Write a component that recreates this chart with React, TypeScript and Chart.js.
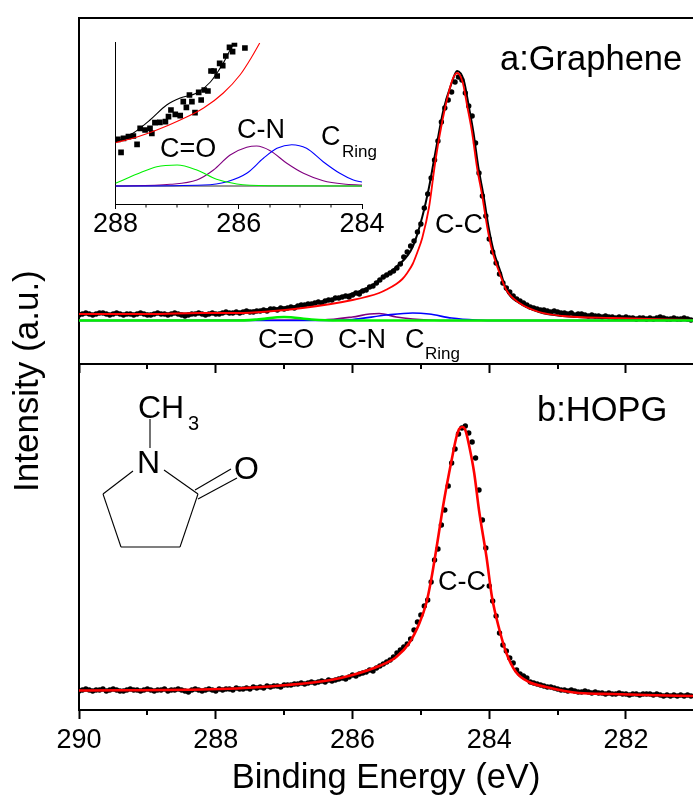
import React, { useEffect, useRef } from "react";
import { Chart, registerables } from "chart.js";

Chart.register(...registerables);

const FONT = '"Liberation Sans", Arial, sans-serif';

// Shared energy grid of the scanned spectra (eV)
const energies = [
  290.0, 289.95, 289.9, 289.85, 289.8, 289.75, 289.7, 289.65, 289.6, 289.55,
  289.5, 289.45, 289.4, 289.35, 289.3, 289.25, 289.2, 289.15, 289.1, 289.05,
  289.0, 288.95, 288.9, 288.85, 288.8, 288.75, 288.7, 288.65, 288.6, 288.55,
  288.5, 288.45, 288.4, 288.35, 288.3, 288.25, 288.2, 288.15, 288.1, 288.05,
  288.0, 287.95, 287.9, 287.85, 287.8, 287.75, 287.7, 287.65, 287.6, 287.55,
  287.5, 287.45, 287.4, 287.35, 287.3, 287.25, 287.2, 287.15, 287.1, 287.05,
  287.0, 286.95, 286.9, 286.85, 286.8, 286.75, 286.7, 286.65, 286.6, 286.55,
  286.5, 286.45, 286.4, 286.35, 286.3, 286.25, 286.2, 286.15, 286.1, 286.05,
  286.0, 285.95, 285.9, 285.85, 285.8, 285.75, 285.7, 285.65, 285.6, 285.55,
  285.5, 285.45, 285.4, 285.35, 285.3, 285.25, 285.2, 285.15, 285.1, 285.05,
  285.0, 284.95, 284.9, 284.85, 284.8, 284.75, 284.7, 284.65, 284.6, 284.55,
  284.5, 284.45, 284.4, 284.35, 284.3, 284.25, 284.2, 284.15, 284.1, 284.05,
  284.0, 283.95, 283.9, 283.85, 283.8, 283.75, 283.7, 283.65, 283.6, 283.55,
  283.5, 283.45, 283.4, 283.35, 283.3, 283.25, 283.2, 283.15, 283.1, 283.05,
  283.0, 282.95, 282.9, 282.85, 282.8, 282.75, 282.7, 282.65, 282.6, 282.55,
  282.5, 282.45, 282.4, 282.35, 282.3, 282.25, 282.2, 282.15, 282.1, 282.05,
  282.0, 281.95, 281.9, 281.85, 281.8, 281.75, 281.7, 281.65, 281.6, 281.55,
  281.5, 281.45, 281.4, 281.35, 281.3, 281.25, 281.2, 281.15, 281.1, 281.05,
];

// Panel a: measured points
const grapheneCounts = [
  49, 50, 51, 50, 49, 50, 51, 51, 50, 49, 50, 51, 50, 49, 50, 50, 49, 50, 51, 50,
  49, 49, 50, 51, 50, 50, 49, 50, 51, 50, 49, 48, 49, 50, 50, 51,
  50, 49, 50, 51, 50, 50, 51, 52, 51, 51, 52,
  51, 52, 53, 52, 52, 53, 53, 54, 53, 55,
  55, 54, 56, 55, 56, 57, 56, 58, 59,
  59, 60, 60, 61, 62, 61, 63, 64, 64, 66,
  66, 67, 68, 67, 69, 71, 70, 73, 74, 77,
  78, 81, 84, 87, 89, 91, 93, 96, 100, 107, 112,
  118, 123, 132, 140, 156, 170, 186, 204, 223, 242, 256, 264, 272, 282, 287, 284,
  271, 258, 248, 221, 191, 168, 148, 125, 112, 101, 90, 81, 76, 72, 68, 65,
  63, 61, 59, 57, 56, 55, 54,
  54, 53, 52, 53, 52, 51, 51, 50, 51, 49,
  50, 50, 49, 48, 49, 48, 48, 47, 48, 47,
  47, 46, 47, 46, 47, 46, 46, 45, 46, 46,
  45, 46, 45, 46, 47, 46, 45, 45, 46, 45,
  45, 46, 45, 44,
];

// Panel a: fitted curves
const grapheneEnvelopeE = [290, 288.23, 287.69, 287.21, 286.73, 286.24, 285.75, 285.61, 285.36, 285.12, 284.98, 284.88, 284.8, 284.67, 284.55, 284.47, 284.37, 284.3, 284.23, 284.16, 284.08, 284.01, 283.94, 283.83, 283.75, 283.56, 283.27, 282.93, 282.2, 281.02];
const grapheneEnvelopeI = [50, 50.5, 52, 55, 59, 66, 77, 84, 97, 117, 147, 177, 207, 254, 281, 293, 283, 258, 231, 197, 167, 137, 114, 91, 74, 61, 52, 48, 46, 44];
const grapheneCCE = [290, 288.96, 288.23, 287.69, 286.73, 286.0, 285.61, 285.5, 285.36, 285.27, 285.2, 285.12, 285.05, 284.98, 284.88, 284.8, 284.73, 284.63, 284.54, 284.47, 284.39, 284.32, 284.25, 284.18, 284.1, 284.03, 283.96, 283.85, 283.75, 283.56, 283.27, 282.93, 282.2, 281.02];
const grapheneCCI = [50, 50, 51, 51, 56, 64, 71, 74.5, 80, 85, 91, 100, 112, 126, 157, 197, 227, 261, 284, 291, 282, 257, 231, 197, 167, 137, 114, 91, 74, 61, 52, 48, 46, 44];
const grapheneCOE = [290, 287.7, 287.4, 287.0, 286.6, 286.2, 281.02];
const grapheneCOI = [43.5, 43.5, 44.5, 47, 44.5, 43.5, 43.5];
const grapheneCNE = [290, 286.44, 286.0, 285.75, 285.61, 285.36, 285.12, 284.9, 284.5, 281.02];
const grapheneCNI = [43.5, 44, 47, 50, 50.5, 47, 45, 44, 43.5, 43.5];
const grapheneRingE = [290, 286.5, 286.0, 285.5, 285.12, 284.88, 284.55, 284.2, 283.8, 281.02];
const grapheneRingI = [43.5, 43.5, 44.5, 49, 51, 50, 46, 44, 43.5, 43.5];

// Panel b: measured points
const hopgCounts = [
  19, 20, 21, 20, 19, 20, 20, 21, 19, 20, 21, 20, 19, 19, 20, 21, 20, 20, 19, 20,
  21, 20, 19, 20, 20, 21, 19, 20, 20, 21, 20, 19, 18, 20, 21, 20, 19, 20, 21, 20, 19, 21,
  20, 21, 21, 20, 22, 21, 21, 22, 21, 23, 22, 23, 22, 24, 23, 24, 24, 23, 25, 25,
  25, 26, 26, 27, 26, 27, 28, 27, 28, 29, 28, 30, 29,
  30, 31, 32, 31, 33, 35, 34, 36, 37, 38, 40, 39, 42, 44,
  46, 48, 50, 53, 57, 60, 63, 66, 71, 80, 88, 95, 104, 110, 128, 150, 161, 185, 200, 224,
  247, 261, 276, 282, 284, 277, 268, 252, 220, 190, 162, 124, 109, 94, 77, 65, 59, 52, 47, 40,
  36, 34, 32, 28, 27, 26, 25, 24,
  23, 23, 22, 21, 20, 20, 19, 20, 19, 18,
  18, 19, 18, 17, 18, 17, 17, 16, 17, 16,
  16, 17, 16, 16, 15, 16, 16, 15, 16, 16,
  16, 15, 16, 15, 14, 15, 14, 15, 14, 15,
  14, 15, 14,
];
const hopgFitE = [290, 287.93, 286.96, 286.32, 286, 285.61, 285.36, 285.17, 285.02, 284.92, 284.85, 284.76, 284.66, 284.55, 284.48, 284.44, 284.39, 284.35, 284.29, 284.22, 284.15, 284.04, 283.96, 283.85, 283.75, 283.61, 283.42, 283.17, 282.69, 282.2, 281.71, 281.02];
const hopgFitI = [19.5, 21, 25, 30, 35, 44, 53, 67, 87, 107, 130, 167, 210, 250, 273, 281, 283, 280, 263, 237, 200, 153, 113, 80, 57, 38, 28, 23, 17, 16, 15, 14];

// Inset: zoom of the panel a shoulder
const insetPointE = [287.96, 287.91, 287.87, 287.79, 287.71, 287.65, 287.6, 287.52, 287.44, 287.41, 287.36, 287.28, 287.19, 287.14, 287.1, 287.03, 286.95, 286.9, 286.85, 286.8, 286.76, 286.71, 286.65, 286.61, 286.56, 286.5, 286.45, 286.4, 286.35, 286.31, 286.26, 286.21, 286.15, 286.1, 286.07, 285.9];
const insetPointI = [65.7, 52.7, 66.7, 68.3, 69, 60.7, 76.7, 75, 76.7, 71.7, 82.3, 82.7, 83.3, 88.3, 95, 90.7, 89.3, 103.3, 97.7, 110, 103.3, 92.3, 112.7, 105, 115, 114, 134, 134, 129, 141.7, 139.3, 149, 157.7, 153.3, 161, 157];
const insetCCE = [288, 287.65, 287.33, 286.95, 286.57, 286.25, 285.98, 285.79, 285.66];
const insetCCI = [62.3, 68, 75, 85, 97, 112, 130, 148, 162];
const insetEnvE = [288, 287.71, 287.44, 287.17, 286.95, 286.68, 286.46, 286.25, 286.09, 286.03];
const insetEnvI = [63, 72, 85, 100, 107, 112, 123, 142, 160, 162];
const insetCOE = [288, 287.65, 287.33, 287.0, 286.68, 286.36, 286.03, 285.49, 284];
const insetCOI = [21.7, 31, 38.3, 40, 35, 25.7, 21, 19.3, 19];
const insetCNE = [288, 287.11, 286.68, 286.41, 286.14, 285.87, 285.71, 285.49, 285.22, 284.95, 284.63, 284.3, 284];
const insetCNI = [19, 20.7, 25, 35, 50, 57.7, 59, 54.3, 41.7, 31.7, 24.3, 21, 20];
const insetRingE = [288, 286.57, 286.19, 285.87, 285.6, 285.38, 285.14, 284.9, 284.63, 284.36, 284.14, 284];
const insetRingI = [19, 20, 23.3, 31.7, 46.7, 56.7, 60.3, 56.7, 43.3, 31.7, 25, 23];
const insetBaseE = [288, 284];
const insetBaseI = [19, 19];

// Axis ticks
const mainMajorTicks = [290, 288, 286, 284, 282];
const mainMinorTicks = [289, 287, 285, 283];
const insetMajorTicks = [288, 286, 284];
const insetMinorTicks = [287.5, 287, 286.5, 285.5, 285, 284.5];

const pairs = (xs: number[], ys: number[]) => xs.map((x, i) => ({ x, y: ys[i] }));

const line = (xs: number[], ys: number[], color: string, width: number) => ({
  type: "line" as const,
  data: pairs(xs, ys),
  borderColor: color,
  borderWidth: width,
  pointRadius: 0,
  fill: false,
  cubicInterpolationMode: "monotone" as const,
});

const points = (xs: number[], ys: number[], style: string, radius: number) => ({
  type: "scatter" as const,
  data: pairs(xs, ys),
  backgroundColor: "#000",
  borderColor: "#000",
  borderWidth: 0,
  pointStyle: style,
  pointRadius: radius,
  showLine: false,
});

type Label = { text: string; x: number; y: number; size: number; rotate?: boolean };

const extras = (cfg: {
  id: string;
  minor: number[];
  minorLength: number;
  minorWidth: number;
  top?: boolean;
  labels?: Label[];
}) => ({
  id: cfg.id,
  afterDraw(chart: any) {
    const { ctx, chartArea, scales } = chart;
    ctx.save();
    ctx.strokeStyle = "#000";
    ctx.lineWidth = cfg.minorWidth;
    cfg.minor.forEach((v) => {
      const px = Math.round(scales.x.getPixelForValue(v));
      ctx.beginPath();
      ctx.moveTo(px, chartArea.bottom);
      ctx.lineTo(px, chartArea.bottom + cfg.minorLength);
      ctx.stroke();
    });
    if (cfg.top) {
      ctx.lineWidth = 2;
      ctx.beginPath();
      ctx.moveTo(chartArea.left - 1, chartArea.top);
      ctx.lineTo(chartArea.right, chartArea.top);
      ctx.stroke();
    }
    ctx.fillStyle = "#000";
    ctx.textAlign = "left";
    ctx.textBaseline = "alphabetic";
    (cfg.labels || []).forEach((l) => {
      ctx.save();
      ctx.font = `${l.size}px ${FONT}`;
      ctx.translate(l.x, l.y);
      if (l.rotate) ctx.rotate(-Math.PI / 2);
      ctx.fillText(l.text, 0, 0);
      ctx.restore();
    });
    ctx.restore();
  },
});

const makeOptions = (o: {
  xMin: number;
  xMax: number;
  yMax: number;
  ticks: number[];
  leftWidth: number;
  xHeight: number;
  padTop: number;
  padRight: number;
  axisWidth: number;
  tickLength: number;
  showLabels: boolean;
  labelPad: number;
  title?: string;
}) => ({
  responsive: false,
  animation: false as const,
  events: [] as any[],
  layout: { autoPadding: false, padding: { top: o.padTop, right: o.padRight, left: 0, bottom: 0 } },
  plugins: { legend: { display: false }, tooltip: { enabled: false }, title: { display: false } },
  scales: {
    x: {
      type: "linear" as const,
      reverse: true,
      min: o.xMin,
      max: o.xMax,
      afterBuildTicks: (s: any) => {
        s.ticks = o.ticks.map((value) => ({ value }));
      },
      afterFit: (s: any) => {
        s.height = o.xHeight;
      },
      border: { color: "#000", width: o.axisWidth },
      grid: {
        drawOnChartArea: false,
        drawTicks: true,
        tickLength: o.tickLength,
        tickWidth: o.axisWidth,
        tickColor: "#000",
      },
      ticks: {
        display: o.showLabels,
        autoSkip: false,
        maxRotation: 0,
        minRotation: 0,
        padding: o.labelPad,
        color: "#000",
        font: { family: FONT, size: 27 },
        callback: (v: any) => String(v),
      },
      title: o.title
        ? {
            display: true,
            text: o.title,
            color: "#000",
            font: { family: FONT, size: 34.5 },
            padding: { top: 0, bottom: -4 },
          }
        : { display: false },
    },
    y: {
      type: "linear" as const,
      min: 0,
      max: o.yMax,
      afterFit: (s: any) => {
        s.width = o.leftWidth;
      },
      border: { color: "#000", width: o.axisWidth },
      grid: { drawOnChartArea: false, drawTicks: false },
      ticks: { display: false },
    },
  },
});

export default function App() {
  const aRef = useRef<HTMLCanvasElement>(null);
  const bRef = useRef<HTMLCanvasElement>(null);
  const iRef = useRef<HTMLCanvasElement>(null);

  useEffect(() => {
    const panelA = new Chart(aRef.current!, {
      type: "scatter",
      data: {
        datasets: [
          line(grapheneCOE, grapheneCOI, "#00f000", 2.6),
          line(grapheneRingE, grapheneRingI, "#0000ff", 1.7),
          line(grapheneCNE, grapheneCNI, "#800080", 1.7),
          line(grapheneCCE, grapheneCCI, "#ff0000", 1.8),
          line(grapheneEnvelopeE, grapheneEnvelopeI, "#000", 2),
          points(energies, grapheneCounts, "circle", 2.7),
        ] as any,
      },
      options: makeOptions({
        xMin: 281.02,
        xMax: 290,
        yMax: 346,
        ticks: mainMajorTicks,
        leftWidth: 79,
        xHeight: 431,
        padTop: 18,
        padRight: 0,
        axisWidth: 2,
        tickLength: 9,
        showLabels: false,
        labelPad: 0,
      }) as any,
      plugins: [
        extras({
          id: "panelA",
          minor: mainMinorTicks,
          minorLength: 5,
          minorWidth: 2,
          top: true,
          labels: [
            { text: "a:Graphene", x: 500, y: 70, size: 34.5 },
            { text: "C-C", x: 435, y: 233, size: 27 },
            { text: "C=O", x: 258, y: 348, size: 27 },
            { text: "C-N", x: 338, y: 348, size: 27 },
            { text: "C", x: 405, y: 348, size: 27 },
            { text: "Ring", x: 425, y: 359, size: 17 },
          ],
        }),
      ],
    });

    const panelB = new Chart(bRef.current!, {
      type: "scatter",
      data: {
        datasets: [
          line(hopgFitE, hopgFitI, "#ff0000", 2.6),
          points(energies, hopgCounts, "circle", 2.7),
        ] as any,
      },
      options: makeOptions({
        xMin: 281.02,
        xMax: 290,
        yMax: 346,
        ticks: mainMajorTicks,
        leftWidth: 79,
        xHeight: 85,
        padTop: 364,
        padRight: 0,
        axisWidth: 2,
        tickLength: 9,
        showLabels: true,
        labelPad: 5,
        title: "Binding Energy (eV)",
      }) as any,
      plugins: [
        extras({
          id: "panelB",
          minor: mainMinorTicks,
          minorLength: 5,
          minorWidth: 2,
          labels: [
            { text: "b:HOPG", x: 537, y: 421, size: 34.5 },
            { text: "C-C", x: 438, y: 590, size: 27 },
            { text: "Intensity (a.u.)", x: 38, y: 492, size: 35, rotate: true },
          ],
        }),
      ],
    });

    const inset = new Chart(iRef.current!, {
      type: "scatter",
      data: {
        datasets: [
          line(insetCOE, insetCOI, "#00f000", 1.1),
          line(insetRingE, insetRingI, "#0000ff", 1.1),
          line(insetCNE, insetCNI, "#800080", 1.1),
          line(insetBaseE, insetBaseI, "#333", 1.1),
          line(insetCCE, insetCCI, "#ff0000", 1.1),
          line(insetEnvE, insetEnvI, "#000", 1.1),
          points(insetPointE, insetPointI, "rect", 4),
        ] as any,
      },
      options: makeOptions({
        xMin: 284,
        xMax: 288,
        yMax: 162.3,
        ticks: insetMajorTicks,
        leftWidth: 115.5,
        xHeight: 590,
        padTop: 42.7,
        padRight: 331,
        axisWidth: 1,
        tickLength: 4,
        showLabels: true,
        labelPad: -1,
      }) as any,
      plugins: [
        extras({
          id: "inset",
          minor: insetMinorTicks,
          minorLength: 2.5,
          minorWidth: 1,
          labels: [
            { text: "C=O", x: 160, y: 157, size: 27 },
            { text: "C-N", x: 237, y: 138, size: 27 },
            { text: "C", x: 321, y: 145, size: 27 },
            { text: "Ring", x: 342, y: 157, size: 17 },
          ],
        }),
      ],
    });

    return () => {
      panelA.destroy();
      panelB.destroy();
      inset.destroy();
    };
  }, []);

  const canvasStyle: React.CSSProperties = { position: "absolute", left: 0, top: 0 };

  return (
    <div style={{ position: "absolute", left: 0, top: 0, width: 693, height: 795, overflow: "hidden", background: "#fff" }}>
      <canvas ref={bRef} width={693} height={795} style={canvasStyle} />
      <canvas ref={aRef} width={693} height={795} style={canvasStyle} />
      <canvas ref={iRef} width={693} height={795} style={canvasStyle} />
      <svg width={693} height={795} style={canvasStyle} fontFamily={FONT} fill="#000">
        <g stroke="#000" strokeWidth={1.1} fill="none">
          <line x1={150} y1={419} x2={150} y2={448} />
          <line x1={133} y1={471} x2={103} y2={494} />
          <line x1={103} y1={494} x2={121} y2={547} />
          <line x1={121} y1={547} x2={180} y2={547} />
          <line x1={180} y1={547} x2={198} y2={494} />
          <line x1={198} y1={494} x2={164} y2={470} />
          <line x1={195} y1={490} x2={231} y2={469} />
          <line x1={198} y1={499} x2={237} y2={478} />
        </g>
        <text x={138} y={418} fontSize={32}>CH</text>
        <text x={188} y={430} fontSize={20}>3</text>
        <text x={137} y={473} fontSize={32}>N</text>
        <text x={234} y={479} fontSize={32}>O</text>
      </svg>
    </div>
  );
}
